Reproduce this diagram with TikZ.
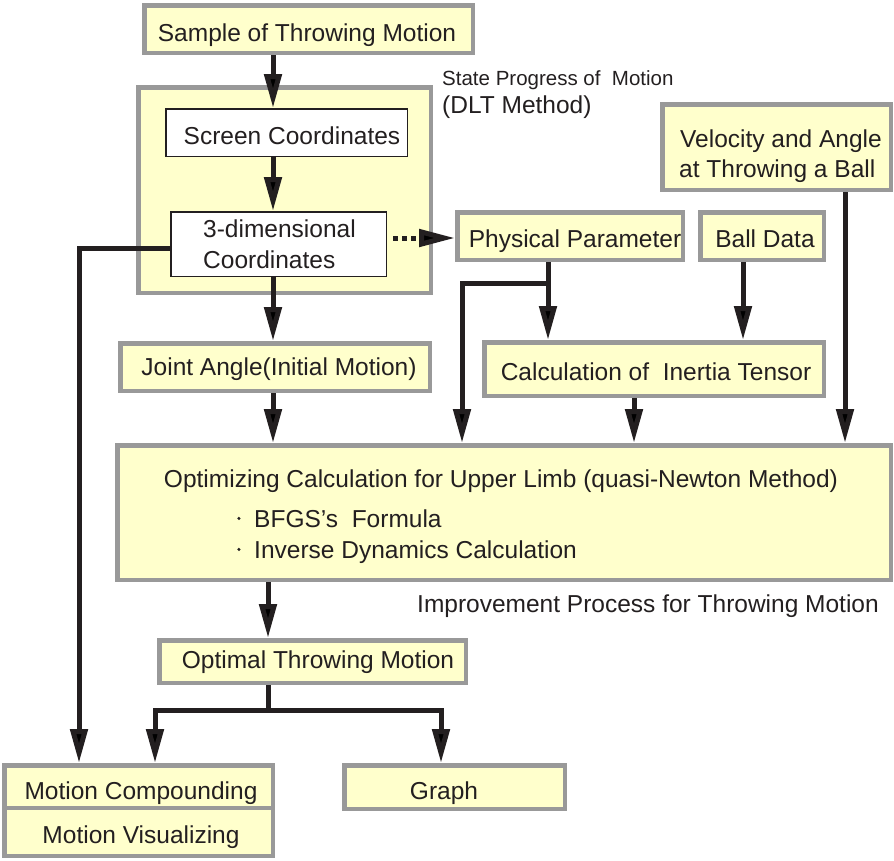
\documentclass[tikz,border=0pt]{standalone}
\usepackage{fontspec}
\setmainfont{Liberation Sans}[Ligatures=ResetAll]
\usetikzlibrary{arrows.meta}
\definecolor{boxfill}{HTML}{FFFFCC}
\definecolor{boxline}{HTML}{999999}
\definecolor{ink}{HTML}{231F20}
\newcommand{\mainsz}{\fontsize{24.5}{29}\selectfont}
\newcommand{\smallsz}{\fontsize{20.5}{24}\selectfont}
\newcommand{\bulletdot}{\raisebox{0.28em}{\tikz\fill[ink] (0,0) circle (1.7pt);}}
\begin{document}
\begin{tikzpicture}[x=1pt,y=-1pt,
  ybox/.style={draw=boxline, line width=4.5pt, fill=boxfill, inner sep=0pt},
  wbox/.style={draw=ink, line width=1.5pt, fill=white, inner sep=0pt},
  txt/.style={font=\mainsz, text=ink, inner sep=0pt, anchor=base},
  txtl/.style={font=\mainsz, text=ink, inner sep=0pt, anchor=base west},
  arr/.style={draw=ink, line width=5pt, line join=miter, -{Triangle[length=34pt,width=17pt]}},
  ln/.style={draw=ink, line width=5pt, line join=miter},
  dotarr/.style={draw=ink, line width=5pt, dash pattern=on 5pt off 4pt, shorten <=6pt, -{Triangle[length=36pt,width=17pt]}}]
\useasboundingbox (0,0) rectangle (894,860);

% boxes
\node[ybox, minimum width=328.5pt, minimum height=47.5pt] (sample) at (308.5,29) {};
\node[ybox, minimum width=292.5pt, minimum height=205.5pt] (dlt) at (284.5,190) {};
\node[wbox, minimum width=241.5pt, minimum height=47.5pt] (screen) at (286.5,132.5) {};
\node[wbox, minimum width=215.5pt, minimum height=64.5pt] (threed) at (278.5,244) {};
\node[ybox, minimum width=225.5pt, minimum height=47.5pt] (phys) at (570,236) {};
\node[ybox, minimum width=123.5pt, minimum height=47.5pt] (ball) at (762,236) {};
\node[ybox, minimum width=228.5pt, minimum height=85.5pt] (vel) at (776.5,147) {};
\node[ybox, minimum width=309.5pt, minimum height=47.5pt] (joint) at (275,367) {};
\node[ybox, minimum width=339.5pt, minimum height=53.5pt] (inertia) at (654,369) {};
\node[ybox, minimum width=773.5pt, minimum height=134.5pt] (opt) at (504,512.5) {};
\node[ybox, minimum width=306.5pt, minimum height=42.5pt] (optimal) at (312.5,661.5) {};
\node[ybox, minimum width=268.5pt, minimum height=42.5pt] (comp) at (138.5,786.5) {};
\node[ybox, minimum width=268.5pt, minimum height=48pt] (vis) at (138.5,831.75) {};
\node[ybox, minimum width=220.5pt, minimum height=43.5pt] (graph) at (454.5,787) {};

% texts
\node[txt] (sampleT) at (307,41) {Sample of Throwing Motion};
\node[txt] (screenT) at (292,144) {Screen Coordinates};
\node[txtl] (threedT1) at (203,237) {3-dimensional};
\node[txtl] (threedT2) at (203,268) {Coordinates};
\node[txtl, font=\smallsz] (stateT) at (442,85) {State Progress of\ \ Motion};
\node[txtl] (dltT) at (442,113) {(DLT Method)};
\node[txt] (physT) at (575,247) {Physical Parameter};
\node[txt] (ballT) at (765,247) {Ball Data};
\node[txtl] (velT1) at (680,147) {Velocity and Angle};
\node[txtl] (velT2) at (679,177) {at Throwing a Ball};
\node[txt] (jointT) at (279,375) {Joint Angle(Initial Motion)};
\node[txt] (inertiaT) at (656,380) {Calculation of\ \ Inertia Tensor};
\node[txt] (optT) at (501,487) {Optimizing Calculation for Upper Limb (quasi-Newton Method)};
\node[txtl] (optB1) at (237,527) {\bulletdot\ \ BFGS's\ \ Formula};
\node[txtl] (optB2) at (237,558) {\bulletdot\ \ Inverse Dynamics Calculation};
\node[txt] (improveT) at (648,612) {Improvement Process for Throwing Motion};
\node[txt] (optimalT) at (318,668) {Optimal Throwing Motion};
\node[txt] (compT) at (141,799) {Motion Compounding};
\node[txt] (visT) at (141,843) {Motion Visualizing};
\node[txt] (graphT) at (444,799) {Graph};

% column / row coordinates
\coordinate (cA) at (273,0);
\coordinate (cB) at (268,0);
\coordinate (cL) at (79,0);
\coordinate (cC) at (155,0);
\coordinate (cG) at (441,0);
\coordinate (cP) at (548,0);
\coordinate (cQ) at (462,0);
\coordinate (cBall) at (743,0);
\coordinate (cI) at (634,0);
\coordinate (cV) at (845,0);
\coordinate (yL) at (0,248);
\coordinate (yD) at (0,238);
\coordinate (yP) at (0,283);
\coordinate (yS) at (0,710);

% connectors
\draw[arr] (sample.south -| cA) -- (screen.north -| cA);
\draw[arr] (screen.south -| cA) -- (threed.north -| cA);
\draw[arr] (threed.south -| cA) -- (joint.north -| cA);
\draw[arr] (joint.south -| cA) -- (opt.north -| cA);
\draw[dotarr] (threed.east |- yD) -- (phys.west |- yD);
\draw[arr] (threed.west |- yL) -| (comp.north -| cL);
\draw[arr] (phys.south -| cP) -- (inertia.north -| cP);
\draw[arr] (cP |- yP) -| (opt.north -| cQ);
\draw[arr] (ball.south -| cBall) -- (inertia.north -| cBall);
\draw[arr] (inertia.south -| cI) -- (opt.north -| cI);
\draw[arr] (vel.south -| cV) -- (opt.north -| cV);
\draw[arr] (opt.south -| cB) -- (optimal.north -| cB);
\draw[ln] (optimal.south -| cB) -- (cB |- yS);
\draw[arr] (cB |- yS) -| (comp.north -| cC);
\draw[arr] (cB |- yS) -| (graph.north -| cG);
\end{tikzpicture}
\end{document}
